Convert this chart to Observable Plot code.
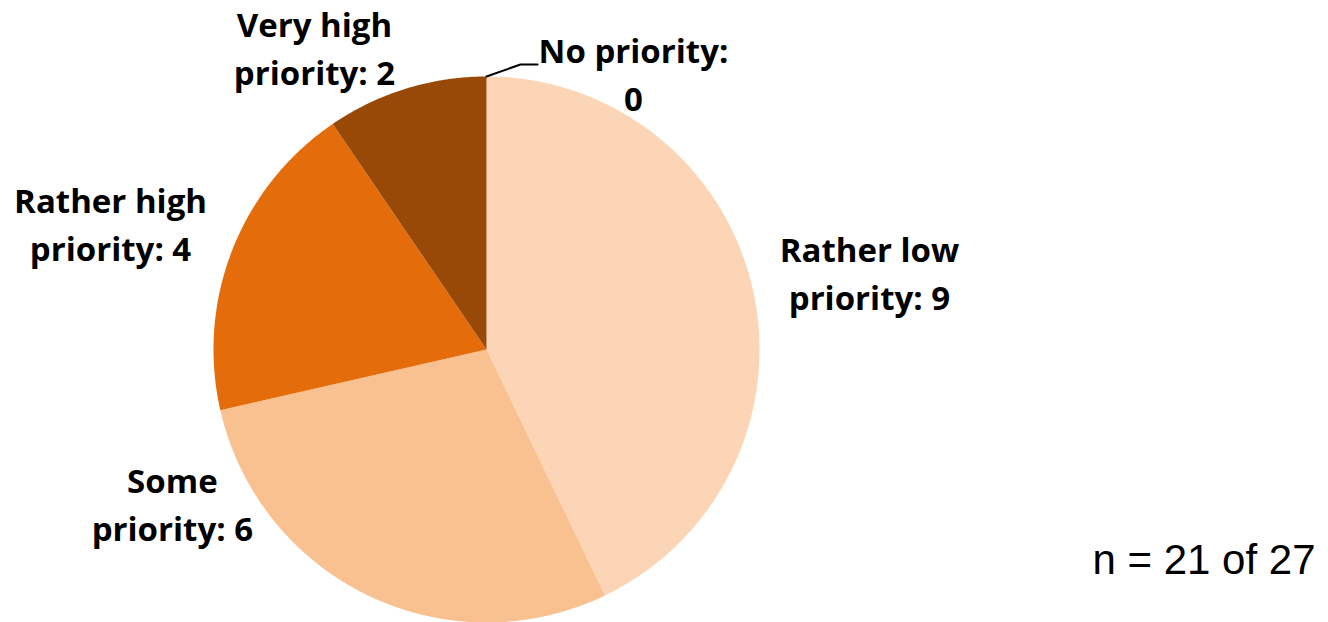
<!DOCTYPE html>
<html>
<head>
<meta charset="utf-8">
<script src="https://cdn.jsdelivr.net/npm/d3@7"></script>
<script src="https://cdn.jsdelivr.net/npm/@observablehq/plot@0.6"></script>
<style>
  html, body { margin: 0; padding: 0; background: #fff; }
  #chart { width: 1328px; height: 622px; }
</style>
</head>
<body>
<div id="chart"></div>
<script>
// ---- data ----
const categories = ["No priority", "Rather low priority", "Some priority", "Rather high priority", "Very high priority"];
const counts = [0, 9, 6, 4, 2];
const labels = ["No priority:\n0", "Rather low\npriority: 9", "Some\npriority: 6", "Rather high\npriority: 4", "Very high\npriority: 2"];
const colors = ["#FDE9D9", "#FBD5B5", "#F9C090", "#E46C0A", "#984807"];
const note = "n = 21 of 27";

// ---- layout (label placement, in degrees clockwise from top / radius units) ----
const labelLayout = {
  "No priority": {angle: 28.4, radius: 1.132},
  "Rather low priority": {angle: 79.2, radius: 1.428},
  "Some priority": {angle: 243.3, radius: 1.288},
  "Rather high priority": {angle: 288.0, radius: 1.448},
  "Very high priority": {angle: 330.0, radius: 1.26}
};

const W = 1328, H = 622, R = 273, CX = 486, CY = 349;

const table = categories.map((c, i) => ({key: c, count: counts[i], label: labels[i]}));
const arcs = d3.pie().sort(null).value(d => d.count).startAngle(0).endAngle(2 * Math.PI)(table);

// slice polygons sampled along the arc
const slicePoints = [];
for (const a of arcs) {
  if (a.data.count === 0) continue;
  const steps = Math.max(4, Math.ceil((a.endAngle - a.startAngle) / (Math.PI / 180) * 2));
  slicePoints.push({key: a.data.key, x: 0, y: 0});
  for (let s = 0; s <= steps; s++) {
    const t = a.startAngle + (a.endAngle - a.startAngle) * s / steps;
    slicePoints.push({key: a.data.key, x: Math.sin(t), y: Math.cos(t)});
  }
  slicePoints.push({key: a.data.key, x: 0, y: 0});
}

const labelPoints = arcs.map(a => {
  const L = labelLayout[a.data.key];
  const t = L.angle * Math.PI / 180;
  return {key: a.data.key, text: a.data.label, x: L.radius * Math.sin(t), y: L.radius * Math.cos(t)};
});

// leader line for the zero slice
const zero = arcs.find(a => a.data.count === 0);
const leader = [
  {x: Math.sin(zero.startAngle), y: Math.cos(zero.startAngle)},
  {x: 34 / R, y: 1 + 12 / R},
  {x: 51 / R, y: 1 + 12 / R}
];

const chart = Plot.plot({
  width: W,
  height: H,
  margin: 0,
  x: {domain: [-CX / R, (W - CX) / R], axis: null},
  y: {domain: [(CY - H) / R, CY / R], axis: null},
  color: {domain: categories, range: colors},
  style: {background: "#fff", overflow: "visible"},
  marks: [
    Plot.line(slicePoints, {x: "x", y: "y", z: "key", fill: "key", stroke: "none", curve: "linear"}),
    Plot.line(leader, {x: "x", y: "y", stroke: "#000", strokeWidth: 2}),
    Plot.text(labelPoints, {
      x: "x", y: "y", text: "text",
      fontFamily: "Open Sans", fontWeight: "bold", fontSize: 33,
      lineHeight: 1.45, textAnchor: "middle", lineAnchor: "middle", fill: "#000", dy: -6
    }),
    Plot.text([note], {
      frameAnchor: "bottom-right", text: d => d,
      fontFamily: "Liberation Sans, Arial", fontSize: 42,
      textAnchor: "end", lineAnchor: "bottom", dx: -13, dy: -49, fill: "#000"
    })
  ]
});

document.getElementById("chart").appendChild(chart);
</script>
</body>
</html>
